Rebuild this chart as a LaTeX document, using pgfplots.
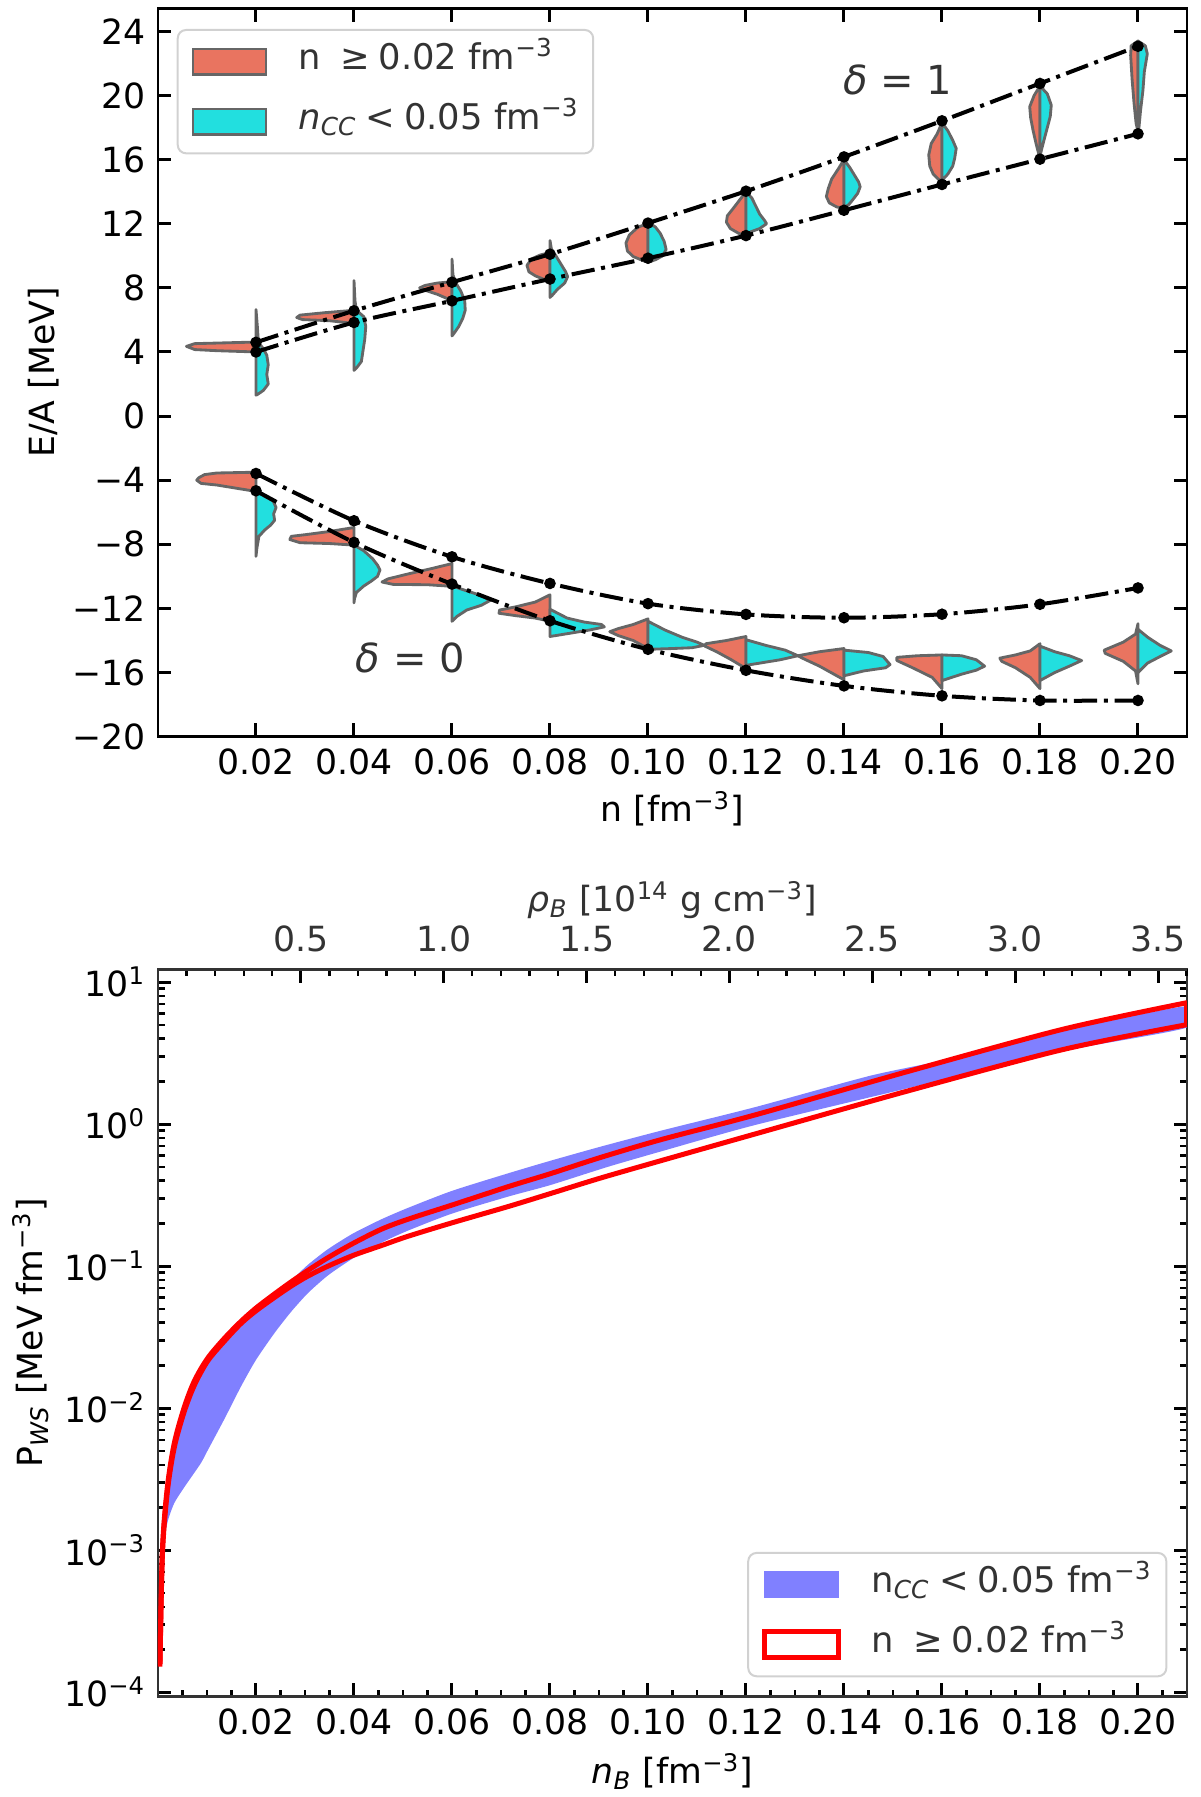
\documentclass[border=0pt]{standalone}
\usepackage{fontspec}
\setmainfont{DejaVu Sans}
\usepackage{pgfplots}
\pgfplotsset{compat=1.18}
\definecolor{salm}{RGB}{233,116,96}
\definecolor{cyn}{RGB}{34,223,223}
\definecolor{vgray}{RGB}{102,102,102}
\definecolor{bband}{RGB}{128,128,255}
\definecolor{dgray}{RGB}{51,51,51}
\newcommand{\fsz}{\fontsize{10.4}{12.5}\selectfont}
\pgfplotsset{
  common/.style={scale only axis, width=308.7pt, anchor=south west, tick align=inside,
    major tick length=4pt, minor tick length=2pt,
    major tick style={line width=0.9pt, black},
    minor tick style={line width=0.7pt, black},
    tick label style={font=\fsz, black},
    label style={font=\fsz},
    xmin=0, xmax=0.21,
    xtick={0.02,0.04,0.06,0.08,0.10,0.12,0.14,0.16,0.18,0.20},
    xticklabels={0.02,0.04,0.06,0.08,0.10,0.12,0.14,0.16,0.18,0.20}},
  salv/.style={fill=salm, draw=vgray, line width=0.85pt, line join=round, forget plot},
  cyv/.style={fill=cyn, draw=vgray, line width=0.85pt, line join=round, forget plot},
  dd/.style={black, line width=1.2pt, smooth, dash pattern=on 7pt off 2pt on 1.2pt off 2pt,
    mark=*, mark size=1.1pt, mark options={solid, fill=black}, forget plot},
  leg/.style={legend cell align=left,
    legend image code/.code={\draw[sharp corners, ##1] (0pt,-3.85pt) rectangle (22pt,3.85pt);},
    legend style={draw=black!18, fill=white, rounded corners=2.5pt, line width=0.6pt,
      inner xsep=4.2pt, inner ysep=4pt, row sep=7pt, font=\fontsize{10.6}{12.7}\selectfont,
      nodes={inner sep=0pt, text height=8pt, text depth=3pt, anchor=west, text=dgray},
      /tikz/every odd column/.append style={column sep=9.3pt}}},
}
\begin{document}
\fsz
\begin{tikzpicture}
\useasboundingbox (0,0) rectangle (360pt,539.1pt);
% ---------------- top panel ----------------
\begin{axis}[common, leg, at={(47.4pt,318.09pt)}, height=218.52pt,
  ymin=-20, ymax=25.44,
  ytick={-20,-16,-12,-8,-4,0,4,8,12,16,20,24},
  yticklabels={−20,−16,−12,−8,−4,0,4,8,12,16,20,24},
  axis line style={line width=0.8pt, black},
  xlabel={n [fm\textsuperscript{−3}]},
  ylabel={E/A [MeV]},
  xlabel style={at={(axis description cs:0.5,-0.117)}, anchor=base},
  ylabel style={at={(axis description cs:-0.1001,0.5)}, anchor=base},
  legend style={at={(axis description cs:0.0182,0.9716)}, anchor=north west}]
\addlegendimage{fill=salm, draw=vgray, line width=0.7pt}
\addlegendentry{n\hspace{0.55em}≥\hspace{0.25em}0.02 fm\textsuperscript{−3}}
\addlegendimage{fill=cyn, draw=vgray, line width=0.7pt}
\addlegendentry{\textit{n}\textsubscript{\textit{CC}}\hspace{0.25em}<\hspace{0.25em}0.05 fm\textsuperscript{−3}}
% delta = 1 violins
\addplot[salv] coordinates {(0.02,4.62) (0.0075,4.52) (0.0058,4.35) (0.0075,4.15) (0.012,4.08) (0.02,4.0)} -- cycle;
\addplot[cyv] coordinates {(0.02,6.65) (0.0203,5.5) (0.0205,4.6) (0.0215,4.2) (0.0222,3.8) (0.0225,3.2) (0.0222,2.6) (0.0225,2.0) (0.0215,1.6) (0.0203,1.35) (0.02,1.3)} -- cycle;
\addplot[salv] coordinates {(0.04,6.6) (0.034,6.45) (0.029,6.3) (0.0283,6.15) (0.0295,6.02) (0.035,5.95) (0.04,5.78)} -- cycle;
\addplot[cyv] coordinates {(0.04,8.45) (0.0402,7.2) (0.0405,6.6) (0.042,6.2) (0.0424,5.6) (0.0422,4.8) (0.0418,4.0) (0.0415,3.4) (0.0405,3.0) (0.04,2.85)} -- cycle;
\addplot[salv] coordinates {(0.06,8.38) (0.057,8.3) (0.0545,8.15) (0.0534,8.0) (0.0545,7.85) (0.057,7.6) (0.06,7.2)} -- cycle;
\addplot[cyv] coordinates {(0.06,9.8) (0.0602,8.8) (0.0608,8.3) (0.0618,7.8) (0.0626,7.2) (0.0627,6.6) (0.0622,6.1) (0.0614,5.6) (0.0605,5.2) (0.06,5.0)} -- cycle;
\addplot[salv] coordinates {(0.08,10.2) (0.078,10.05) (0.0762,9.8) (0.0753,9.4) (0.0757,9.0) (0.077,8.75) (0.079,8.5) (0.08,8.35)} -- cycle;
\addplot[cyv] coordinates {(0.08,10.95) (0.0803,10.4) (0.0812,10.0) (0.0822,9.5) (0.0832,9.0) (0.0836,8.7) (0.083,8.3) (0.0815,7.9) (0.0805,7.55) (0.08,7.4)} -- cycle;
\addplot[salv] coordinates {(0.10,12.0) (0.098,11.8) (0.0962,11.3) (0.0955,10.8) (0.0958,10.3) (0.097,9.95) (0.099,9.7) (0.10,9.6)} -- cycle;
\addplot[cyv] coordinates {(0.10,12.1) (0.1015,11.8) (0.1025,11.4) (0.1033,10.9) (0.1037,10.4) (0.103,10.0) (0.1015,9.75) (0.10,9.6)} -- cycle;
\addplot[salv] coordinates {(0.12,14.0) (0.119,13.6) (0.1175,13.0) (0.1162,12.5) (0.116,12.1) (0.1168,11.7) (0.1185,11.4) (0.12,11.25)} -- cycle;
\addplot[cyv] coordinates {(0.12,14.0) (0.1212,13.6) (0.122,13.1) (0.1228,12.6) (0.1238,12.2) (0.1242,12.0) (0.1228,11.7) (0.121,11.5) (0.12,11.3)} -- cycle;
\addplot[salv] coordinates {(0.14,16.0) (0.1388,15.4) (0.1375,14.8) (0.1368,14.2) (0.1364,13.7) (0.137,13.3) (0.1385,13.05) (0.14,12.95)} -- cycle;
\addplot[cyv] coordinates {(0.14,16.0) (0.1412,15.5) (0.1422,15.0) (0.143,14.6) (0.1433,14.3) (0.1428,13.9) (0.1418,13.5) (0.141,13.2) (0.14,13.0)} -- cycle;
\addplot[salv] coordinates {(0.16,18.3) (0.159,17.6) (0.1578,17.0) (0.1573,16.3) (0.1575,15.6) (0.1582,15.1) (0.1592,14.8) (0.16,14.6)} -- cycle;
\addplot[cyv] coordinates {(0.16,18.3) (0.1612,17.8) (0.1622,17.2) (0.1629,16.7) (0.1626,16.1) (0.1622,15.6) (0.1612,15.1) (0.16,14.7)} -- cycle;
\addplot[salv] coordinates {(0.18,20.6) (0.1788,20.0) (0.1779,19.3) (0.1781,18.6) (0.1786,17.8) (0.1792,17.0) (0.1797,16.4) (0.18,16.2)} -- cycle;
\addplot[cyv] coordinates {(0.18,20.6) (0.1815,20.1) (0.1823,19.4) (0.1821,18.7) (0.1815,18.0) (0.1808,17.2) (0.1803,16.6) (0.18,16.2)} -- cycle;
\addplot[salv] coordinates {(0.20,23.4) (0.1986,23.1) (0.1985,22.5) (0.1988,21.0) (0.1992,19.5) (0.1996,18.3) (0.20,17.7)} -- cycle;
\addplot[cyv] coordinates {(0.20,23.4) (0.2015,23.1) (0.2019,22.6) (0.2013,21.5) (0.2010,20.3) (0.2005,19.0) (0.2002,18.0) (0.20,17.6)} -- cycle;
% delta = 0 violins
\addplot[salv] coordinates {(0.02,-3.5) (0.012,-3.55) (0.0095,-3.65) (0.0083,-3.85) (0.0079,-4.0) (0.0088,-4.2) (0.012,-4.3) (0.02,-4.7)} -- cycle;
\addplot[cyv] coordinates {(0.02,-4.65) (0.0215,-4.95) (0.0235,-5.3) (0.0241,-5.7) (0.0236,-6.1) (0.0238,-6.5) (0.023,-6.8) (0.0218,-7.1) (0.0206,-7.5) (0.0202,-8.2) (0.02,-8.75)} -- cycle;
\addplot[salv] coordinates {(0.04,-6.95) (0.035,-7.2) (0.030,-7.4) (0.0272,-7.5) (0.0269,-7.7) (0.029,-7.9) (0.035,-7.95) (0.04,-8.05)} -- cycle;
\addplot[cyv] coordinates {(0.04,-8.05) (0.042,-8.4) (0.0438,-8.9) (0.0448,-9.3) (0.0453,-9.6) (0.0448,-10.0) (0.0435,-10.3) (0.042,-10.6) (0.0405,-11.0) (0.0401,-11.4) (0.04,-11.65)} -- cycle;
\addplot[salv] coordinates {(0.06,-9.2) (0.056,-9.5) (0.051,-9.85) (0.047,-10.15) (0.0457,-10.35) (0.048,-10.5) (0.055,-10.52) (0.06,-10.62)} -- cycle;
\addplot[cyv] coordinates {(0.06,-10.6) (0.063,-10.9) (0.066,-11.2) (0.0678,-11.5) (0.066,-11.8) (0.063,-12.1) (0.061,-12.5) (0.06,-12.8)} -- cycle;
\addplot[salv] coordinates {(0.08,-11.15) (0.077,-11.6) (0.073,-11.9) (0.0697,-12.1) (0.0696,-12.3) (0.073,-12.45) (0.077,-12.6) (0.08,-12.8)} -- cycle;
\addplot[cyv] coordinates {(0.08,-12.05) (0.0835,-12.6) (0.087,-12.85) (0.0905,-13.0) (0.0911,-13.15) (0.088,-13.35) (0.084,-13.55) (0.08,-13.75)} -- cycle;
\addplot[salv] coordinates {(0.10,-12.65) (0.097,-13.0) (0.094,-13.25) (0.0922,-13.45) (0.094,-13.7) (0.097,-14.0) (0.10,-14.5)} -- cycle;
\addplot[cyv] coordinates {(0.10,-12.8) (0.1035,-13.35) (0.107,-13.8) (0.110,-14.1) (0.1115,-14.3) (0.109,-14.45) (0.105,-14.5) (0.10,-14.55)} -- cycle;
\addplot[salv] coordinates {(0.12,-13.75) (0.116,-14.0) (0.1118,-14.2) (0.1116,-14.35) (0.114,-14.7) (0.117,-15.2) (0.12,-15.75)} -- cycle;
\addplot[cyv] coordinates {(0.12,-13.95) (0.124,-14.3) (0.128,-14.6) (0.1306,-14.95) (0.127,-15.2) (0.123,-15.4) (0.12,-15.55)} -- cycle;
\addplot[salv] coordinates {(0.14,-14.5) (0.135,-14.7) (0.1306,-14.95) (0.1315,-15.1) (0.135,-15.6) (0.14,-16.45)} -- cycle;
\addplot[cyv] coordinates {(0.14,-14.6) (0.145,-14.75) (0.148,-15.0) (0.1494,-15.5) (0.1485,-15.7) (0.144,-15.9) (0.14,-16.2)} -- cycle;
\addplot[salv] coordinates {(0.16,-14.9) (0.155,-14.95) (0.1508,-15.05) (0.1508,-15.25) (0.154,-15.7) (0.158,-16.3) (0.16,-17.0)} -- cycle;
\addplot[cyv] coordinates {(0.16,-14.9) (0.164,-14.95) (0.167,-15.2) (0.1687,-15.6) (0.167,-15.85) (0.164,-16.1) (0.16,-16.5)} -- cycle;
\addplot[salv] coordinates {(0.18,-14.2) (0.178,-14.65) (0.175,-14.9) (0.1718,-15.1) (0.1722,-15.3) (0.175,-15.7) (0.178,-16.3) (0.18,-17.0)} -- cycle;
\addplot[cyv] coordinates {(0.18,-14.35) (0.183,-14.7) (0.186,-14.95) (0.1885,-15.25) (0.186,-15.6) (0.183,-16.0) (0.18,-16.5)} -- cycle;
\addplot[salv] coordinates {(0.20,-12.95) (0.1995,-13.6) (0.197,-14.1) (0.1931,-14.6) (0.1933,-14.8) (0.197,-15.3) (0.1995,-15.9) (0.20,-16.7)} -- cycle;
\addplot[cyv] coordinates {(0.20,-13.3) (0.202,-13.8) (0.2045,-14.3) (0.2068,-14.65) (0.2045,-15.0) (0.202,-15.4) (0.20,-16.0)} -- cycle;
% dash-dot bounds
\addplot[dd] coordinates {(0.02,4.6) (0.04,6.57) (0.06,8.35) (0.08,10.1) (0.10,12.04) (0.12,14.03) (0.14,16.17) (0.16,18.42) (0.18,20.75) (0.20,23.07)};
\addplot[dd] coordinates {(0.02,4.0) (0.04,5.84) (0.06,7.19) (0.08,8.55) (0.10,9.85) (0.12,11.26) (0.14,12.84) (0.16,14.45) (0.18,16.03) (0.20,17.61)};
\addplot[dd] coordinates {(0.02,-3.58) (0.04,-6.53) (0.06,-8.78) (0.08,-10.44) (0.10,-11.7) (0.12,-12.37) (0.14,-12.58) (0.16,-12.36) (0.18,-11.74) (0.20,-10.72)};
\addplot[dd] coordinates {(0.02,-4.66) (0.04,-7.88) (0.06,-10.48) (0.08,-12.77) (0.10,-14.55) (0.12,-15.86) (0.14,-16.83) (0.16,-17.45) (0.18,-17.74) (0.20,-17.74)};
\node[font=\fontsize{12}{14}\selectfont, text=dgray] at (axis cs:0.151,21.0) {\textit{δ} = 1};
\node[font=\fontsize{12}{14}\selectfont, text=dgray] at (axis cs:0.0515,-15.1) {\textit{δ} = 0};
\end{axis}
% ---------------- bottom panel ----------------
\begin{axis}[common, leg, at={(47.4pt,30.09pt)}, height=218.22pt,
  ymode=log, ymin=9.3e-5, ymax=12.3,
  ytick={1e-4,1e-3,1e-2,1e-1,1,10},
  yticklabels={10\textsuperscript{−4},10\textsuperscript{−3},10\textsuperscript{−2},10\textsuperscript{−1},10\textsuperscript{0},10\textsuperscript{1}},
  minor ytick={2e-4,3e-4,4e-4,5e-4,6e-4,7e-4,8e-4,9e-4,2e-3,3e-3,4e-3,5e-3,6e-3,7e-3,8e-3,9e-3,2e-2,3e-2,4e-2,5e-2,6e-2,7e-2,8e-2,9e-2,0.2,0.3,0.4,0.5,0.6,0.7,0.8,0.9,2,3,4,5,6,7,8,9},
  xtick pos=left,
  minor xtick={0.005,0.01,0.015,0.025,0.03,0.035,0.045,0.05,0.055,0.065,0.07,0.075,0.085,0.09,0.095,0.105,0.11,0.115,0.125,0.13,0.135,0.145,0.15,0.155,0.165,0.17,0.175,0.185,0.19,0.195,0.205},
  axis line style={line width=0.8pt, dgray},
  xlabel={\textit{n}\textsubscript{\textit{B}} [fm\textsuperscript{−3}]},
  ylabel={P\textsubscript{\textit{WS}} [MeV fm\textsuperscript{−3}]},
  xlabel style={at={(axis description cs:0.5,-0.1188)}, anchor=base},
  ylabel style={at={(axis description cs:-0.1124,0.5)}, anchor=base},
  legend style={at={(axis description cs:0.9809,0.0267)}, anchor=south east}]
\addlegendimage{fill=bband, draw=bband, line width=0.4pt}
\addlegendentry{n\textsubscript{\textit{CC}}\hspace{0.25em}<\hspace{0.25em}0.05 fm\textsuperscript{−3}}
\addlegendimage{draw=red, line width=1.5pt, fill=white}
\addlegendentry{n\hspace{0.55em}≥\hspace{0.25em}0.02 fm\textsuperscript{−3}}
\addplot[fill=bband, draw=none, smooth, tension=0.4, forget plot] coordinates {
 (0.0004,1.585e-4) (0.0009,1.0e-3) (0.0019,2.754e-3) (0.0033,5.623e-3) (0.0053,1.0e-2) (0.0074,1.549e-2) (0.0101,2.239e-2) (0.0135,3.090e-2) (0.0169,4.074e-2) (0.0200,5.070e-2) (0.0238,6.383e-2) (0.0272,7.943e-2) (0.0306,0.1023) (0.0347,0.1318) (0.0398,0.1698) (0.0456,0.2138) (0.0510,0.2570) (0.0600,0.3388) (0.0715,0.4508) (0.0800,0.5508) (0.0903,0.6934) (0.1029,0.9036) (0.1218,1.315) (0.1453,2.188) (0.1610,2.851) (0.1847,4.519) (0.2100,6.761)
 (0.2100,4.786) (0.1847,3.266) (0.1532,1.795) (0.1218,0.9840) (0.1029,0.6457) (0.0919,0.5012) (0.0800,0.3715) (0.0715,0.3090) (0.0600,0.2344) (0.0510,0.1778) (0.0456,0.1462) (0.0398,0.1135) (0.0347,8.610e-2) (0.0306,6.457e-2) (0.0272,4.786e-2) (0.0238,3.388e-2) (0.0200,2.188e-2) (0.0169,1.413e-2) (0.0135,8.318e-3) (0.0101,5.012e-3) (0.0087,4.074e-3) (0.0053,2.754e-3) (0.0033,2.138e-3) (0.0019,1.549e-3) (0.0009,8.913e-4) (0.0004,1.585e-4)} -- cycle;
\addplot[draw=red, line width=1.5pt, smooth, forget plot] coordinates {
 (0.0004,1.585e-4) (0.0009,1.0e-3) (0.0019,2.754e-3) (0.0033,5.623e-3) (0.0053,1.0e-2) (0.0074,1.549e-2) (0.0101,2.239e-2) (0.0135,3.090e-2) (0.0169,4.074e-2) (0.0200,5.070e-2) (0.0238,6.383e-2) (0.0272,7.762e-2) (0.0306,9.333e-2) (0.0347,0.1148) (0.0398,0.1445) (0.0456,0.1820) (0.0510,0.2138) (0.0600,0.2692) (0.0715,0.3631) (0.0800,0.4467) (0.0903,0.5821) (0.1029,0.7816) (0.1218,1.159) (0.1532,2.355) (0.1847,4.656) (0.2100,7.161)};
\addplot[draw=red, line width=1.5pt, smooth, forget plot] coordinates {
 (0.0004,1.514e-4) (0.0009,9.33e-4) (0.0019,2.570e-3) (0.0033,5.248e-3) (0.0053,9.333e-3) (0.0074,1.445e-2) (0.0101,2.138e-2) (0.0135,2.951e-2) (0.0169,3.936e-2) (0.0200,4.842e-2) (0.0238,6.026e-2) (0.0272,7.244e-2) (0.0306,8.511e-2) (0.0347,0.1) (0.0398,0.1189) (0.0456,0.1396) (0.0510,0.1622) (0.0600,0.2018) (0.0715,0.2630) (0.0800,0.3236) (0.0903,0.4169) (0.1029,0.5559) (0.1218,0.8511) (0.1532,1.718) (0.1847,3.350) (0.2100,5.012)};
\addplot[draw=red, line width=1.5pt, forget plot] coordinates {(0.2100,7.161) (0.2100,5.012)};
\end{axis}
% ---------------- top (mass density) axis of bottom panel ----------------
\begin{axis}[scale only axis, width=308.7pt, height=218.22pt, at={(47.4pt,30.09pt)}, anchor=south west,
  xmin=0, xmax=3.6015, ymin=0, ymax=1,
  axis x line*=top, axis y line=none, tick align=inside,
  major tick length=4pt, minor tick length=2pt,
  major tick style={line width=0.9pt, black},
  minor tick style={line width=0.7pt, black},
  xtick={0.5,1.0,1.5,2.0,2.5,3.0,3.5},
  xticklabels={0.5,1.0,1.5,2.0,2.5,3.0,3.5},
  minor xtick={0.1,0.2,0.3,0.4,0.6,0.7,0.8,0.9,1.1,1.2,1.3,1.4,1.6,1.7,1.8,1.9,2.1,2.2,2.3,2.4,2.6,2.7,2.8,2.9,3.1,3.2,3.3,3.4,3.6},
  xticklabel style={font=\fsz, text=dgray, yshift=1.5pt},
  axis line style={line width=0.8pt, dgray},
  xlabel={\textit{ρ}\textsubscript{\textit{B}} [10\textsuperscript{14} g cm\textsuperscript{−3}]},
  xlabel style={font=\fsz, text=dgray, at={(axis description cs:0.5,1.0793)}, anchor=base}]
\end{axis}
\end{tikzpicture}
\end{document}
